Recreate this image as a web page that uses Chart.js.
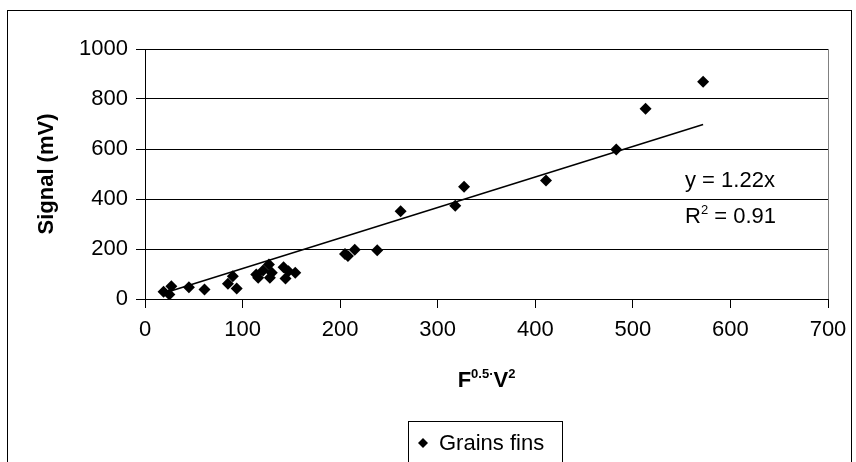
<!DOCTYPE html>
<html>
<head>
<meta charset="utf-8">
<script src="https://cdn.jsdelivr.net/npm/chart.js@4.4.1/dist/chart.umd.min.js"></script>
<style>
  html, body { margin: 0; padding: 0; background: #fff; }
  canvas { display: block; }
</style>
</head>
<body>
<canvas id="chart" width="856" height="462"></canvas>
<script>
// values
var seriesName = 'Grains fins';
var xValues = [19, 25, 27, 45, 61, 85, 90, 94, 114, 116, 121, 127, 130, 128, 142, 144, 147, 154,
               205, 208, 215, 238, 262, 318, 327, 411, 483, 513, 572];
var yValues = [29, 18, 51, 47, 38, 61, 91, 42, 98, 85, 114, 138, 105, 85, 127, 82, 111, 105,
               180, 172, 197, 195, 351, 373, 449, 474, 598, 761, 869];
// trendline end points (y = 1.22x)
var trendX = [19, 572];
var trendY = [23, 698];
var xTicks = [0, 100, 200, 300, 400, 500, 600, 700];
var yTicks = [0, 200, 400, 600, 800, 1000];
var equationText = 'y = 1.22x';
var r2Text = ' = 0.91';

var FONT = "'Liberation Sans', Arial, sans-serif";
Chart.defaults.font.family = FONT;
Chart.defaults.color = '#000';

// draw a run of text pieces, some of them raised as superscripts
function drawRich(ctx, parts, x, y, size, weight, align) {
    var total = 0;
    parts.forEach(function (p) {
        ctx.font = weight + ' ' + (p.sup ? Math.round(size * 0.6) : size) + 'px ' + FONT;
        p.w = ctx.measureText(p.t).width;
        total += p.w;
    });
    var cx = align === 'center' ? x - total / 2 : x;
    parts.forEach(function (p) {
        ctx.font = weight + ' ' + (p.sup ? Math.round(size * 0.6) : size) + 'px ' + FONT;
        ctx.fillText(p.t, cx, p.sup ? y - size * 0.42 : y);
        cx += p.w;
    });
}

var decorPlugin = {
    id: 'decor',
    afterDraw: function (chart) {
        var ctx = chart.ctx;
        var area = chart.chartArea;
        ctx.save();
        // outer frame
        ctx.strokeStyle = '#000';
        ctx.lineWidth = 1;
        ctx.strokeRect(7.5, 10.5, 844, 480);
        // right edge of plot area
        ctx.strokeStyle = '#808080';
        ctx.beginPath();
        ctx.moveTo(Math.round(area.right) + 0.5, area.top);
        ctx.lineTo(Math.round(area.right) + 0.5, area.bottom);
        ctx.stroke();

        ctx.fillStyle = '#000';
        ctx.textAlign = 'left';
        ctx.textBaseline = 'alphabetic';
        // x axis title
        drawRich(ctx, [{t: 'F'}, {t: '0.5\u00b7', sup: true}, {t: 'V'}, {t: '2', sup: true}],
            (area.left + area.right) / 2, 387, 22, 'bold', 'center');
        // trendline label
        drawRich(ctx, [{t: equationText}], 685, 187, 22, 'normal', 'left');
        drawRich(ctx, [{t: 'R'}, {t: '2', sup: true}, {t: r2Text}], 685, 223, 22, 'normal', 'left');

        // legend box
        ctx.strokeStyle = '#000';
        ctx.strokeRect(408.5, 421.5, 154, 60);
        ctx.beginPath();
        ctx.moveTo(423, 438); ctx.lineTo(428, 443); ctx.lineTo(423, 448); ctx.lineTo(418, 443);
        ctx.closePath();
        ctx.fill();
        ctx.font = '22px ' + FONT;
        ctx.textBaseline = 'middle';
        ctx.fillText(chart.data.datasets[0].label, 439, 444);
        ctx.restore();
    }
};

var points = xValues.map(function (x, i) { return {x: x, y: yValues[i]}; });
var trend = trendX.map(function (x, i) { return {x: x, y: trendY[i]}; });

new Chart(document.getElementById('chart'), {
    type: 'scatter',
    data: {
        datasets: [{
            label: seriesName,
            data: points,
            pointStyle: 'rectRot',
            pointRadius: 6,
            backgroundColor: '#000',
            borderColor: '#000',
            borderWidth: 0,
            order: 1
        }, {
            type: 'line',
            label: 'trend',
            data: trend,
            borderColor: '#000',
            borderWidth: 1.5,
            pointRadius: 0,
            fill: false,
            order: 2
        }]
    },
    options: {
        responsive: false,
        animation: false,
        devicePixelRatio: 1,
        layout: { padding: { left: 0, top: 49, right: 28, bottom: 0 } },
        plugins: {
            legend: { display: false },
            tooltip: { enabled: false }
        },
        scales: {
            x: {
                type: 'linear',
                min: 0,
                max: 700,
                afterBuildTicks: function (scale) {
                    scale.ticks = xTicks.map(function (v) { return {value: v}; });
                },
                afterFit: function (scale) { scale.height = 163; },
                grid: { drawOnChartArea: false, drawTicks: true, tickLength: 9, color: '#000' },
                border: { color: '#000', width: 1 },
                ticks: {
                    font: { size: 22 }, padding: 9, color: '#000', maxRotation: 0,
                    callback: function (v) { return String(v); }
                }
            },
            y: {
                type: 'linear',
                min: 0,
                max: 1000,
                afterBuildTicks: function (scale) {
                    scale.ticks = yTicks.map(function (v) { return {value: v}; });
                },
                afterFit: function (scale) { scale.width = 145; },
                grid: { color: '#000', tickLength: 9 },
                border: { color: '#000', width: 1 },
                ticks: {
                    font: { size: 22 }, padding: 8, color: '#000',
                    callback: function (v) { return String(v); }
                },
                title: {
                    display: true,
                    text: 'Signal (mV)',
                    font: { size: 22, weight: 'bold', lineHeight: 1.2 },
                    padding: { top: 34, bottom: 0 },
                    color: '#000'
                }
            }
        }
    },
    plugins: [decorPlugin]
});
</script>
</body>
</html>
